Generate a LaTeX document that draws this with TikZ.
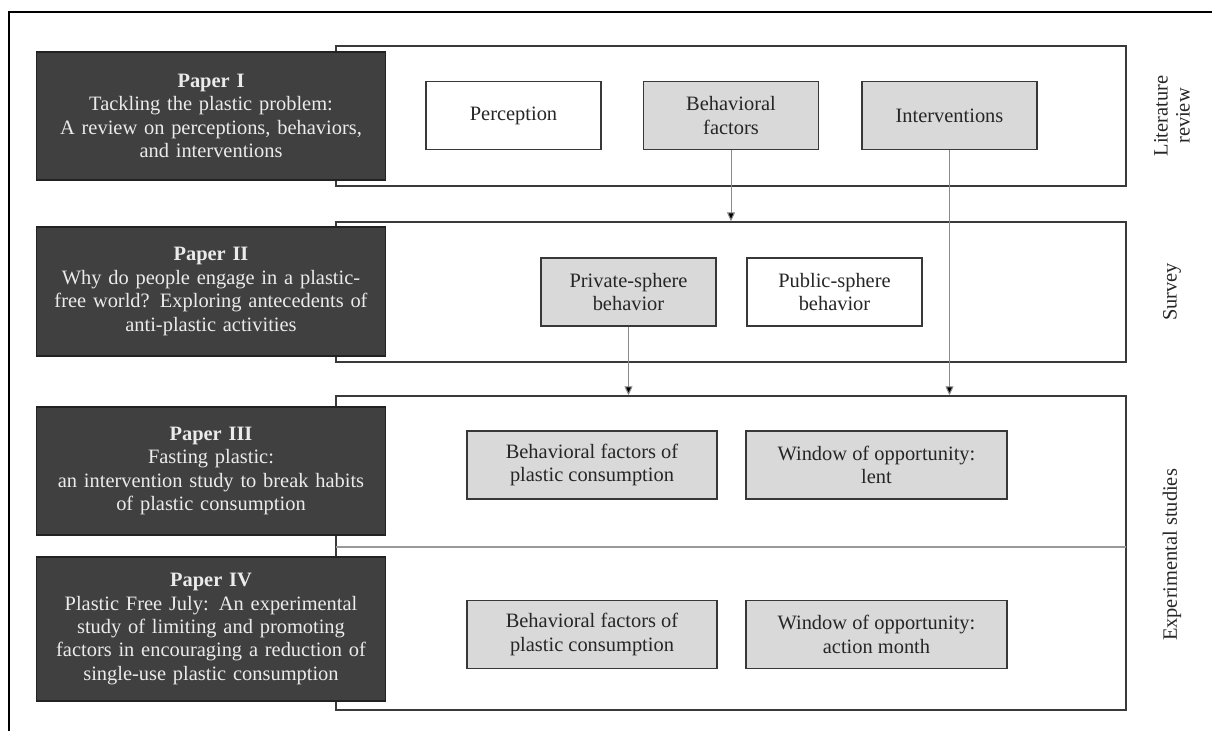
\documentclass[tikz,border=0pt]{standalone}
\usepackage{fontspec}
\setmainfont{Liberation Serif}
\usetikzlibrary{arrows.meta}
\definecolor{darkbox}{HTML}{404040}
\definecolor{darkedge}{HTML}{222222}
\definecolor{lightfill}{HTML}{D9D9D9}
\definecolor{frameline}{HTML}{3A3A3A}
\definecolor{arrline}{HTML}{8A8A8A}
\tikzset{
  stageframe/.style={draw=frameline, line width=1.4bp, fill=white, minimum width=790bp, inner sep=0pt},
  paperbox/.style={draw=darkedge, line width=1.4bp, fill=darkbox, text=white!92!black, minimum width=349bp, text width=345bp, align=center, inner sep=0pt, font=\fontsize{20.5}{23.5}\selectfont},
  graybox/.style={draw=darkedge!90, line width=1.3bp, fill=lightfill, text=black!85, align=center, inner sep=0pt, minimum height=68bp, font=\fontsize{20.5}{23.5}\selectfont},
  whitebox/.style={graybox, fill=white},
  sidelabel/.style={rotate=90, align=center, text=black!85, font=\fontsize{20.5}{22}\selectfont},
  arr/.style={draw=arrline, line width=1bp, -{Triangle[length=9bp,width=8bp,fill=black]}}
}
\begin{document}
\begin{tikzpicture}[x=1bp,y=-1bp]
\useasboundingbox (0,0) rectangle (1212,731);
% outer frame (top and left only visible)
\draw[black, line width=1.4bp] (9,731) -- (9,12) -- (1212,12);

% stage frames
\node[stageframe, minimum height=140bp] (s1) at (731,116) {};
\node[stageframe, minimum height=140bp] (s2) at (731,292) {};
\node[stageframe, minimum height=314bp] (s3) at (731,553) {};
\coordinate (divL) at (336,547);
\coordinate (divR) at (1126,547);
\draw[black!40, line width=1.2bp] (divL) -- (divR);

% paper boxes
\node[paperbox, minimum height=128bp] (p1) at (211,116) {\textbf{Paper I}\\Tackling the plastic problem:\\A review on perceptions, behaviors,\\and interventions};
\node[paperbox, minimum height=129bp] (p2) at (211,291.5) {\textbf{Paper II}\\Why do people engage in a plastic-\\free world? Exploring antecedents of\\anti-plastic activities};
\node[paperbox, minimum height=128bp] (p3) at (211,471) {\textbf{Paper III}\\Fasting plastic:\\an intervention study to break habits\\of plastic consumption};
\node[paperbox, minimum height=144bp] (p4) at (211,629) {\textbf{Paper IV}\\Plastic Free July: An experimental\\study of limiting and promoting\\factors in encouraging a reduction of\\single-use plastic consumption};

% row 1
\node[whitebox, minimum width=175bp] (perc) at (513.5,115.5) {Perception};
\node[graybox, minimum width=175bp] (bf) at (731,115.5) {Behavioral\\factors};
\node[graybox, minimum width=175bp] (int) at (949.5,115.5) {Interventions};
% row 2
\node[graybox, minimum width=175bp] (priv) at (628.5,292) {Private-sphere\\behavior};
\node[whitebox, minimum width=175bp] (pub) at (834.5,292) {Public-sphere\\behavior};
% row 3
\node[graybox, minimum width=250bp] (bf3) at (592,465) {Behavioral factors of\\plastic consumption};
\node[graybox, minimum width=261bp] (win3) at (876.5,465) {Window of opportunity:\\lent};
% row 4
\node[graybox, minimum width=250bp] (bf4) at (592,634.5) {Behavioral factors of\\plastic consumption};
\node[graybox, minimum width=261bp] (win4) at (876.5,634.5) {Window of opportunity:\\action month};

% arrows
\draw[arr] (bf.south) -- (bf.south |- s2.north);
\draw[arr] (int.south) -- (int.south |- s3.north);
\draw[arr] (priv.south) -- (priv.south |- s3.north);

% side labels
\node[sidelabel] (l1) at (1172,116) {Literature\\review};
\node[sidelabel] (l2) at (1172,292) {Survey};
\node[sidelabel] (l3) at (1172,555) {Experimental studies};
\end{tikzpicture}
\end{document}
